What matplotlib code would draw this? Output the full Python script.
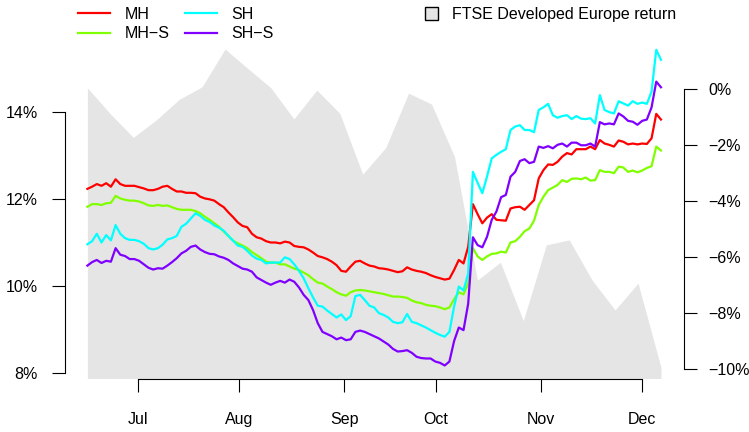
import matplotlib.pyplot as plt
import numpy as np
from matplotlib.patches import Patch
from matplotlib.lines import Line2D

plt.rcParams['font.family'] = ['Liberation Sans', 'DejaVu Sans']

# daily yields (%), one value per trading day
mh = [12.23, 12.28, 12.34, 12.30, 12.36, 12.28, 12.45, 12.34, 12.30, 12.30,
      12.30, 12.27, 12.24, 12.20, 12.20, 12.23, 12.28, 12.30, 12.23, 12.17,
      12.17, 12.14, 12.14, 12.13, 12.05, 12.01, 11.99, 11.96, 11.88, 11.81,
      11.69, 11.58, 11.46, 11.38, 11.35, 11.20, 11.12, 11.09, 11.03, 11.00,
      11.00, 10.98, 11.02, 11.00, 10.92, 10.90, 10.89, 10.84, 10.77, 10.69,
      10.66, 10.62, 10.56, 10.48, 10.35, 10.33, 10.45, 10.56, 10.58, 10.52,
      10.47, 10.45, 10.41, 10.40, 10.38, 10.35, 10.32, 10.34, 10.43, 10.38,
      10.35, 10.33, 10.30, 10.25, 10.21, 10.18, 10.15, 10.17, 10.37, 10.60,
      10.52, 10.90, 11.88, 11.65, 11.44, 11.57, 11.65, 11.52, 11.51, 11.50,
      11.78, 11.81, 11.82, 11.75, 11.86, 11.97, 12.47, 12.66, 12.79, 12.78,
      12.85, 12.97, 13.05, 13.02, 13.14, 13.14, 13.14, 13.20, 13.14, 13.35,
      13.27, 13.24, 13.20, 13.34, 13.31, 13.25, 13.27, 13.25, 13.27, 13.26,
      13.39, 13.95, 13.82]
mh_s = [11.82, 11.88, 11.88, 11.86, 11.90, 11.91, 12.07, 12.01, 11.98, 11.96,
        11.96, 11.94, 11.90, 11.85, 11.84, 11.86, 11.84, 11.85, 11.81, 11.77,
        11.75, 11.75, 11.75, 11.72, 11.67, 11.59, 11.52, 11.44, 11.36, 11.25,
        11.15, 11.04, 10.98, 10.93, 10.87, 10.78, 10.71, 10.64, 10.56, 10.54,
        10.54, 10.50, 10.50, 10.45, 10.40, 10.37, 10.31, 10.25, 10.16, 10.08,
        10.06, 9.99, 9.93, 9.86, 9.81, 9.78, 9.86, 9.90, 9.91, 9.90,
        9.88, 9.86, 9.84, 9.82, 9.79, 9.76, 9.76, 9.75, 9.73, 9.67,
        9.63, 9.61, 9.57, 9.55, 9.54, 9.51, 9.47, 9.51, 9.70, 9.86,
        9.81, 10.06, 10.87, 10.68, 10.60, 10.68, 10.74, 10.75, 10.79, 10.77,
        11.00, 11.03, 11.13, 11.26, 11.32, 11.50, 11.86, 12.05, 12.20, 12.26,
        12.32, 12.43, 12.39, 12.46, 12.47, 12.45, 12.49, 12.42, 12.43, 12.66,
        12.62, 12.62, 12.59, 12.74, 12.72, 12.62, 12.65, 12.61, 12.65, 12.71,
        12.75, 13.20, 13.11]
sh = [10.96, 11.03, 11.20, 11.00, 11.17, 11.05, 11.40, 11.20, 11.10, 11.06,
      11.06, 11.03, 10.97, 10.87, 10.84, 10.87, 10.95, 11.07, 11.10, 11.15,
      11.36, 11.43, 11.55, 11.67, 11.61, 11.52, 11.47, 11.39, 11.34, 11.27,
      11.15, 11.04, 10.93, 10.90, 10.81, 10.70, 10.63, 10.60, 10.52, 10.54,
      10.54, 10.54, 10.66, 10.62, 10.50, 10.35, 10.18, 9.95, 9.74, 9.55,
      9.53, 9.44, 9.36, 9.28, 9.35, 9.22, 9.31, 9.77, 9.80, 9.68,
      9.55, 9.51, 9.38, 9.34, 9.28, 9.18, 9.15, 9.17, 9.36, 9.18,
      9.15, 9.10, 9.05, 8.99, 8.93, 8.88, 8.84, 8.95, 9.53, 9.99,
      9.90, 10.29, 12.62, 12.37, 12.13, 12.51, 12.93, 13.01, 13.08, 13.14,
      13.58, 13.66, 13.69, 13.58, 13.58, 13.53, 14.04, 14.10, 14.18, 13.92,
      13.86, 13.90, 13.92, 13.83, 13.90, 13.84, 13.83, 13.85, 13.73, 14.38,
      14.04, 13.99, 13.96, 14.24, 14.19, 14.14, 14.24, 14.18, 14.21, 14.18,
      14.46, 15.42, 15.19]
sh_s = [10.47, 10.55, 10.60, 10.53, 10.58, 10.56, 10.87, 10.72, 10.69, 10.62,
        10.62, 10.58, 10.50, 10.42, 10.38, 10.41, 10.40, 10.47, 10.55, 10.64,
        10.75, 10.81, 10.90, 10.93, 10.84, 10.78, 10.74, 10.73, 10.68, 10.65,
        10.60, 10.52, 10.46, 10.40, 10.38, 10.33, 10.20, 10.14, 10.08, 10.03,
        10.08, 10.12, 10.08, 10.15, 10.10, 9.97, 9.80, 9.68, 9.45, 9.15,
        8.95, 8.90, 8.85, 8.78, 8.82, 8.76, 8.78, 8.95, 8.98, 8.95,
        8.90, 8.85, 8.80, 8.73, 8.66, 8.56, 8.50, 8.51, 8.53, 8.47,
        8.38, 8.35, 8.34, 8.34, 8.27, 8.24, 8.18, 8.27, 8.74, 9.05,
        8.99, 9.60, 11.12, 10.94, 10.89, 11.13, 11.52, 11.71, 12.04, 12.09,
        12.51, 12.62, 12.87, 12.91, 12.82, 12.85, 13.20, 13.17, 13.21, 13.16,
        13.24, 13.27, 13.20, 13.29, 13.29, 13.23, 13.23, 13.27, 13.20, 13.76,
        13.71, 13.73, 13.71, 13.96, 13.89, 13.79, 13.77, 13.70, 13.79, 13.82,
        14.10, 14.69, 14.56]

# weekly cumulative index return (%)
ftse = [0.05, -0.88, -1.72, -1.10, -0.36, 0.09, 1.44, 0.74, 0.05, -1.06,
        -0.03, -0.86, -3.04, -2.09, -0.14, -0.53, -2.41, -6.83, -6.19, -8.28,
        -5.57, -5.39, -6.83, -7.90, -6.94, -9.95]

months = ['Jul', 'Aug', 'Sep', 'Oct', 'Nov', 'Dec']
month_pos = [10.75, 32.2, 54.6, 74.1, 96.5, 118.0]   # trading-day index of 1st of month

days = np.arange(len(mh))
weeks = np.linspace(0, days[-1], len(ftse))

W, H = 749, 432
fig = plt.figure(figsize=(W / 100, H / 100), dpi=100)
x0, x1, y_bot, y_top = 64.5, 684, 378.5, 37
ax = fig.add_axes([x0 / W, 1 - y_bot / H, (x1 - x0) / W, (y_bot - y_top) / H])
ax2 = ax.twinx()

ylo2, yhi2 = -10.351, 1.872
ax2.fill_between(weeks, ftse, ylo2, color='#e5e5e5', linewidth=0)
ax2.set_ylim(ylo2, yhi2)

lw = 1.6
ax.plot(days, mh, color='#ff0000', lw=lw)
ax.plot(days, mh_s, color='#80ff00', lw=lw)
ax.plot(days, sh, color='#00ffff', lw=lw)
ax.plot(days, sh_s, color='#8000ff', lw=lw)

ax.set_zorder(ax2.get_zorder() + 1)
ax.patch.set_visible(False)

ax.set_xlim(-4.87, 126.9)
ax.set_ylim(7.881, 15.713)

fs = 11.5
ax.set_yticks([8, 10, 12, 14])
ax.set_yticklabels(['8%', '10%', '12%', '14%'], fontsize=fs)
ax.set_xticks(month_pos)
ax.set_xticklabels(months, fontsize=fs)
ax.tick_params(axis='y', length=9.6, width=0.8, pad=9.4)
ax.tick_params(axis='x', length=9.6, width=0.8, pad=14.5)

ax2.set_yticks([-10, -8, -6, -4, -2, 0])
ax2.set_yticklabels(['\u221210%', '\u22128%', '\u22126%', '\u22124%', '\u22122%', '0%'],
                    fontsize=fs)
ax2.tick_params(axis='y', length=9.6, width=0.8, pad=7.8)

for s in ['top', 'right']:
    ax.spines[s].set_visible(False)
for s in ['top', 'left', 'bottom']:
    ax2.spines[s].set_visible(False)
ax.spines['left'].set_bounds(8, 14)
ax.spines['bottom'].set_bounds(month_pos[0], month_pos[-1])
ax2.spines['right'].set_bounds(-10, 0)
for sp in [ax.spines['left'], ax.spines['bottom'], ax2.spines['right']]:
    sp.set_linewidth(0.8)

handles = [Line2D([], [], color=c, lw=lw) for c in ['#ff0000', '#80ff00', '#00ffff', '#8000ff']]
labels = ['MH', 'MH\u2212S', 'SH', 'SH\u2212S']
fig.legend(handles, labels, ncol=2, loc='upper left', bbox_to_anchor=(78 / W, 1 - 7 / H),
           frameon=False, fontsize=fs, handlelength=2.0, handletextpad=0.9,
           columnspacing=1.0, labelspacing=0.28, borderpad=0, borderaxespad=0)
fig.legend([Patch(facecolor='#e5e5e5', edgecolor='black', linewidth=1.0)],
           ['FTSE Developed Europe return'], loc='upper left',
           bbox_to_anchor=(425 / W, 1 - 7 / H), frameon=False, fontsize=fs,
           handlelength=0.8, handleheight=0.8, handletextpad=0.9,
           borderpad=0, borderaxespad=0)

fig.savefig('out.png', dpi=100)
